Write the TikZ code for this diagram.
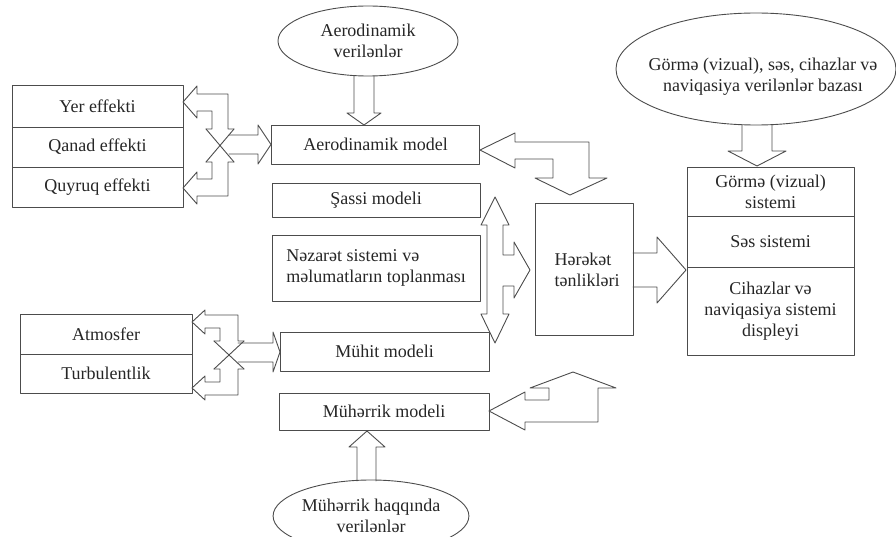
\documentclass[tikz,border=0pt]{standalone}
\usepackage{fontspec}
\setmainfont{Liberation Serif}
\usetikzlibrary{shapes.geometric}
\tikzset{
	kutu/.style={draw=black!70, line width=0.9pt, inner sep=0pt, align=center, text=black!85},
	oval/.style={kutu, ellipse},
	blk/.style={draw=black!70, line width=0.9pt}
}
\begin{document}
\begin{tikzpicture}[x=1pt,y=-1pt,font=\fontsize{18}{21}\selectfont,line join=round,line cap=round]
	\useasboundingbox (0,0) rectangle (896,537);
	
	\node[oval, minimum width=180, minimum height=70] (aeroveri) at (368,41) {Aerodinamik\\verilənlər};
	\node[oval, minimum width=280, minimum height=112] (baza) at (756,69) {};
	\node[align=center, text=black!85] (bazametn) at (763,77) {Görmə (vizual), səs, cihazlar və\\naviqasiya verilənlər bazası};
	\node[oval, minimum width=188, minimum height=72] (muhveri) at (371,516) {Mühərrik haqqında\\verilənlər};
	
	\node[kutu, minimum width=171, minimum height=42] (yer) at (97.5,106) {Yer effekti};
	\node[kutu, minimum width=171, minimum height=40] (qanad) at (97.5,147) {Qanad effekti};
	\node[kutu, minimum width=171, minimum height=40] (quyruq) at (97.5,187) {Quyruq effekti};
	
	\node[kutu, minimum width=172, minimum height=40] (atmos) at (106,334) {Atmosfer};
	\node[kutu, minimum width=172, minimum height=39] (turb) at (106,373.5) {Turbulentlik};
	
	\node[kutu, minimum width=208, minimum height=39] (aero) at (375.5,144.5) {Aerodinamik model};
	\node[kutu, minimum width=208, minimum height=34] (sassi) at (376,200) {Şassi modeli};
	\node[kutu, minimum width=208, minimum height=66, align=left] (nezaret) at (376,268) {Nəzarət sistemi və\\məlumatların toplanması};
	\node[kutu, minimum width=209, minimum height=39] (muhit) at (384.5,351.5) {Mühit modeli};
	\node[kutu, minimum width=210, minimum height=37] (muherrik) at (384,411.5) {Mühərrik modeli};
	
	\node[kutu, minimum width=98, minimum height=132] (hereket) at (584,269) {};
	\node[align=left, text=black!85] (hereketmetn) at (587,270) {Hərəkət\\tənlikləri};
	
	\node[kutu, minimum width=167, minimum height=49] (gorme) at (770.5,191.5) {Görmə (vizual)\\sistemi};
	\node[kutu, minimum width=167, minimum height=51] (ses) at (770.5,241.5) {Səs sistemi};
	\node[kutu, minimum width=167, minimum height=88] (cihaz) at (770.5,311) {Cihazlar və\\naviqasiya sistemi\\displeyi};
	
	\draw[blk] (354,76) -- (354,113) -- (347,113) -- (364,125) -- (381,113) -- (374,113) -- (374,76);
	\draw[blk] (357,481) -- (357,447) -- (349,447) -- (367,431) -- (385,447) -- (376,447) -- (376,481);
	\draw[blk] (742,125) -- (742,151) -- (728,151) -- (757,166) -- (786,151) -- (772,151) -- (772,125);
	\draw[blk] (633,253) -- (657,253) -- (657,237) -- (686,270) -- (657,303) -- (657,287) -- (633,287);
	
	\draw[blk] (480,150) -- (515,133) -- (515,142) -- (589,142) -- (589,178) -- (607,178) -- (570,195) -- (535,178) -- (553,178) -- (553,159) -- (515,159) -- (515,168) -- cycle;
	\draw[blk] (489,411) -- (525,392) -- (525,400) -- (549,400) -- (549,388) -- (530,388) -- (573,372) -- (616,388) -- (598,388) -- (598,422) -- (525,422) -- (525,430) -- cycle;
	\draw[blk] (495,197) -- (509,225) -- (503,225) -- (503,255) -- (514,255) -- (514,242) -- (530,270) -- (514,298) -- (514,286) -- (503,286) -- (503,314) -- (509,314) -- (495,343) -- (481,314) -- (487,314) -- (487,225) -- (481,225) -- cycle;
	
	\draw[blk] (206,129) -- (212,129) -- (212,111) -- (197,111) -- (197,118) -- (183,102) -- (197,86) -- (197,94) -- (228,94) -- (228,129) -- (234,129);
	\draw[blk] (234,129) -- (206,162) (206,129) -- (234,162);
	\draw[blk] (206,162) -- (212,162) -- (212,179) -- (197,179) -- (197,172) -- (183,188) -- (197,204) -- (197,196) -- (228,196) -- (228,162) -- (234,162);
	\draw[blk] (229,135) -- (258,135) -- (258,125) -- (271,144.5) -- (258,164) -- (258,154) -- (229,154);
	
	\draw[blk] (214,341) -- (220,341) -- (220,328) -- (205,328) -- (205,334) -- (192,322) -- (205,310) -- (205,315) -- (238,315) -- (238,341) -- (244,341);
	\draw[blk] (244,341) -- (214,369) (214,341) -- (244,369);
	\draw[blk] (214,369) -- (220,369) -- (220,382) -- (205,382) -- (205,376) -- (192,388) -- (205,400) -- (205,395) -- (238,395) -- (238,369) -- (244,369);
	\draw[blk] (238,343) -- (273,343) -- (273,332) -- (280,352) -- (273,372) -- (273,362) -- (238,362);
\end{tikzpicture}
\end{document}
